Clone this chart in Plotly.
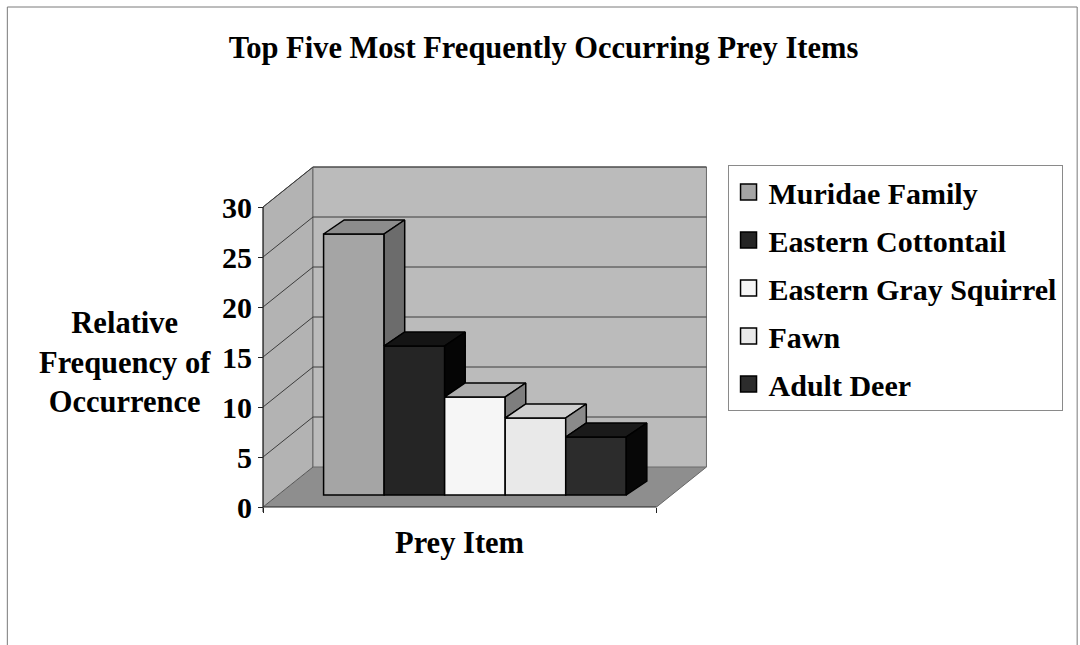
import plotly.graph_objects as go

# ---------------- data ----------------
categories = ["Muridae Family", "Eastern Cottontail", "Eastern Gray Squirrel", "Fawn", "Adult Deer"]
values = [26.1, 14.9, 9.8, 7.7, 5.8]
y_ticks = [0, 5, 10, 15, 20, 25, 30]

front_colors = ["#a5a5a5", "#252525", "#f6f6f6", "#e9e9e9", "#2c2c2c"]
top_colors = ["#8c8c8c", "#141414", "#adadad", "#cfcfcf", "#1a1a1a"]
side_colors = ["#6c6c6c", "#050505", "#7e7e7e", "#8a8a8a", "#070707"]

# ---------------- 3-D look parameters ----------------
WALL_DX, WALL_DY = 0.825, 4.0     # depth of the floor / walls (x in slots, y in value units)
FLOOR_W = 6.5                     # width of the floor (slots)
BAR_BASE = 1.2                    # vertical offset of the bar front faces (bars sit back on the floor)
BAR_DX, BAR_DY = 0.34, 1.4        # bar depth
Y_MAX = 30
FONT = "Liberation Serif"

fig = go.Figure()

# front faces as real bars
for i, (c, v) in enumerate(zip(categories, values)):
    fig.add_trace(go.Bar(
        x=[1.5 + i], y=[v], base=BAR_BASE, width=1, name=c, showlegend=False,
        marker=dict(color=front_colors[i], line=dict(color="black", width=1.5)),
        hovertemplate=c + ": %{y}<extra></extra>",
    ))

# top and visible side faces
for i, v in enumerate(values):
    L, R = 1 + i, 2 + i
    top = BAR_BASE + v
    xs = [L, R, R + BAR_DX, L + BAR_DX, L]
    ys = [top, top, top + BAR_DY, top + BAR_DY, top]
    fig.add_trace(go.Scatter(x=xs, y=ys, fill="toself", fillcolor=top_colors[i], mode="lines",
                             line=dict(color="black", width=1.5), showlegend=False, hoverinfo="skip"))
    low = BAR_BASE + (values[i + 1] if i + 1 < len(values) else 0)
    if low < top:
        xs = [R, R + BAR_DX, R + BAR_DX, R, R]
        ys = [low, low + BAR_DY, top + BAR_DY, top, low]
        fig.add_trace(go.Scatter(x=xs, y=ys, fill="toself", fillcolor=side_colors[i], mode="lines",
                                 line=dict(color="black", width=1.5), showlegend=False, hoverinfo="skip"))

# legend entries (square swatches)
for i, c in enumerate(categories):
    fig.add_trace(go.Scatter(
        x=[None], y=[None], mode="markers", name=c, legendgroup=c,
        marker=dict(symbol="square", size=16, color=front_colors[i],
                    line=dict(color="black", width=1.5)),
    ))

# walls, floor and gridlines (drawn below the traces)
shapes = []
bx0, bx1 = WALL_DX, FLOOR_W + WALL_DX
shapes.append(dict(type="path", xref="x", yref="y", layer="below",
                   path=f"M0,0 L{FLOOR_W},0 L{bx1},{WALL_DY} L{bx0},{WALL_DY} Z",
                   fillcolor="#8e8e8e", line=dict(width=0)))
shapes.append(dict(type="path", xref="x", yref="y", layer="below",
                   path=f"M0,0 L0,{Y_MAX} L{bx0},{Y_MAX + WALL_DY} L{bx0},{WALL_DY} Z",
                   fillcolor="#b3b3b3", line=dict(color="#555555", width=1)))
shapes.append(dict(type="path", xref="x", yref="y", layer="below",
                   path=f"M{bx0},{WALL_DY} L{bx1},{WALL_DY} L{bx1},{Y_MAX + WALL_DY} L{bx0},{Y_MAX + WALL_DY} Z",
                   fillcolor="#bbbbbb", line=dict(color="#6a6a6a", width=1)))
for t in y_ticks[1:]:
    shapes.append(dict(type="line", xref="x", yref="y", layer="below",
                       x0=bx0, y0=t + WALL_DY, x1=bx1, y1=t + WALL_DY,
                       line=dict(color="#3c3c3c", width=1)))
    shapes.append(dict(type="line", xref="x", yref="y", layer="below",
                       x0=0, y0=t, x1=bx0, y1=t + WALL_DY,
                       line=dict(color="#3c3c3c", width=1)))
shapes.append(dict(type="line", xref="x", yref="y", layer="below",
                   x0=FLOOR_W, y0=0, x1=bx1, y1=WALL_DY, line=dict(color="#666666", width=1)))
shapes.append(dict(type="line", xref="x", yref="y", layer="below",
                   x0=0, y0=0, x1=FLOOR_W, y1=0, line=dict(color="#222222", width=1)))
shapes.append(dict(type="line", xref="x", yref="y", layer="below",
                   x0=0, y0=-0.5, x1=0, y1=Y_MAX, line=dict(color="#222222", width=1)))

# pixel -> paper helpers (plot area: left 256.94 px, width 454.5 px, bottom 512 px, height 350 px)
PL, PW, PB, PH = 256.94, 454.5, 512.0, 350.0
def px(xp):
    return (xp - PL) / PW
def py(yp):
    return (PB - yp) / PH

# outer frame
shapes.append(dict(type="rect", xref="paper", yref="paper",
                   x0=px(7), y0=py(700), x1=px(1078), y1=py(7),
                   line=dict(color="#7a7a7a", width=1), fillcolor="rgba(0,0,0,0)"))

annotations = [
    dict(text="Relative<br>Frequency of<br>Occurrence", xref="paper", yref="paper",
         x=px(125), y=py(362), xanchor="center", yanchor="middle", showarrow=False, align="center",
         font=dict(family=FONT, size=30.5, color="black", weight="bold")),
    dict(text="Prey Item", xref="paper", yref="paper",
         x=px(460), y=py(543), xanchor="center", yanchor="middle", showarrow=False,
         font=dict(family=FONT, size=30.5, color="black", weight="bold")),
]

fig.update_layout(
    width=1080, height=645,
    margin=dict(l=PL, r=1080 - PL - PW, t=PB - PH, b=645 - PB, pad=0, autoexpand=False),
    paper_bgcolor="white", plot_bgcolor="white",
    barmode="overlay",
    title=dict(text="Top Five Most Frequently Occurring Prey Items", x=543.5 / 1080, xanchor="center",
               y=1 - 47 / 645, yanchor="middle",
               font=dict(family=FONT, size=30.5, color="black", weight="bold")),
    xaxis=dict(range=[-0.1, 7.4], showgrid=False, zeroline=False, showline=False,
               tickvals=[0, FLOOR_W], ticks="outside", ticklen=5, tickcolor="#222222",
               showticklabels=False, anchor="free", position=py(507), fixedrange=True,
               automargin=False),
    yaxis=dict(range=[-0.5, 34.5], showgrid=False, zeroline=False, showline=False,
               tickvals=y_ticks, ticks="outside", ticklen=5, tickcolor="#222222",
               tickfont=dict(family=FONT, size=30, color="black", weight="bold"),
               anchor="free", position=px(263), fixedrange=True, automargin=False),
    legend=dict(x=px(728), y=py(165), xanchor="left", yanchor="top",
                bordercolor="#8a8a8a", borderwidth=1, bgcolor="white",
                traceorder="grouped", tracegroupgap=6, itemsizing="trace",
                font=dict(family=FONT, size=30, color="black", weight="bold")),
    shapes=shapes,
    annotations=annotations,
    showlegend=True,
)

fig.write_html("out.html", config={"displayModeBar": False},
               post_script="document.body.style.margin='0';")
